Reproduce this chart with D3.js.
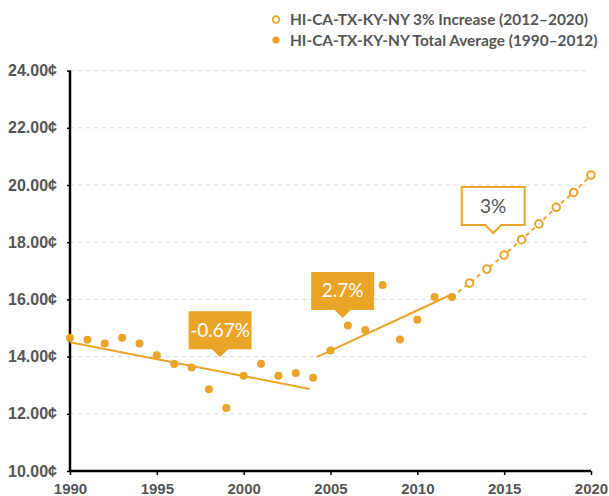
<!DOCTYPE html>
<html>
<head>
<meta charset="utf-8">
<script src="https://cdn.jsdelivr.net/npm/d3@7"></script>
<style>
  body { margin: 0; background: #fff; }
  svg { display: block; font-family: Lato, "Open Sans", sans-serif; }
</style>
</head>
<body>
<svg id="chart" width="609" height="496"></svg>
<script>
// values
const years = d3.range(1990, 2013);
const averageValues = [14.66, 14.59, 14.46, 14.66, 14.46, 14.05, 13.74, 13.62, 12.86, 12.20,
  13.33, 13.75, 13.33, 13.43, 13.26, 14.21, 15.09, 14.93, 16.50, 14.60, 15.29, 16.08, 16.08];
const increaseYears = d3.range(2012, 2021);
const increaseValues = [16.08, 16.57, 17.06, 17.55, 18.09, 18.64, 19.22, 19.74, 20.35];
const trendDown = [[1990, 14.50], [2003.8, 12.87]];
const trendUp = [[2004.2, 13.98], [2012, 16.18]];
const yTicks = [10, 12, 14, 16, 18, 20, 22, 24];
const xTicks = [1990, 1995, 2000, 2005, 2010, 2015, 2020];
const notes = [
  { label: "-0.67%", year: 1998.64, value: 13.98, filled: true },
  { label: "2.7%", year: 2005.7, value: 15.35, filled: true },
  { label: "3%", year: 2014.37, value: 18.32, filled: false }
];
const legendItems = [
  { label: "HI-CA-TX-KY-NY 3% Increase (2012\u20132020)", open: true },
  { label: "HI-CA-TX-KY-NY Total Average (1990\u20132012)", open: false }
];

const orange = "#EAA428";
const textColor = "#555";
const margin = { top: 70.6, right: 18, bottom: 25, left: 70 };
const width = 609, height = 496;

const svg = d3.select("#chart");
const x = d3.scaleLinear().domain([1990, 2020]).range([margin.left, width - margin.right]);
const y = d3.scaleLinear().domain([10, 24]).range([height - margin.bottom, margin.top]);

// grid
svg.append("g").selectAll("line")
  .data(yTicks.filter(d => d > 10))
  .join("line")
  .attr("x1", x(1990)).attr("x2", x(2019.8))
  .attr("y1", d => y(d)).attr("y2", d => y(d))
  .attr("stroke", "#d9d9d9").attr("stroke-dasharray", "4,4");

// axes
const yAxis = svg.append("g")
  .attr("transform", `translate(${margin.left},0)`)
  .call(d3.axisLeft(y).tickValues(yTicks).tickSize(3).tickPadding(10)
    .tickFormat(d => d3.format(".2f")(d) + "\u00a2"));
const xAxis = svg.append("g")
  .attr("transform", `translate(0,${height - margin.bottom})`)
  .call(d3.axisBottom(x).tickValues(xTicks).tickSize(4).tickPadding(8).tickFormat(d3.format("d")));
[xAxis, yAxis].forEach(a => {
  a.select(".domain").attr("stroke", "#000").attr("stroke-width", 2.5);
  a.selectAll(".tick line").attr("stroke", "#000").attr("stroke-width", 1.5);
  a.selectAll("text").attr("fill", textColor).style("font-weight", 700);
});
yAxis.selectAll("text").style("font-size", "16px");
xAxis.selectAll("text").style("font-size", "15px");
yAxis.select(".domain").attr("d", `M0,${y(24)}V${y(10)}`);
xAxis.select(".domain").attr("d", `M${x(1990)},0H${x(2020)}`);

// trend lines
const line = d3.line().x(d => x(d[0])).y(d => y(d[1]));
svg.append("path").datum(trendDown).attr("d", line)
  .attr("fill", "none").attr("stroke", orange).attr("stroke-width", 2);
svg.append("path").datum(trendUp).attr("d", line)
  .attr("fill", "none").attr("stroke", orange).attr("stroke-width", 2);
svg.append("path").datum(increaseYears.map((yr, i) => [yr, increaseValues[i]])).attr("d", line)
  .attr("fill", "none").attr("stroke", orange).attr("stroke-width", 2).attr("stroke-dasharray", "4,4");

// points
svg.append("g").selectAll("circle")
  .data(years.map((yr, i) => [yr, averageValues[i]]))
  .join("circle")
  .attr("cx", d => x(d[0])).attr("cy", d => y(d[1])).attr("r", 4)
  .attr("fill", orange);
svg.append("g").selectAll("circle")
  .data(increaseYears.slice(1).map((yr, i) => [yr, increaseValues[i + 1]]))
  .join("circle")
  .attr("cx", d => x(d[0])).attr("cy", d => y(d[1])).attr("r", 3.8)
  .attr("fill", "#fff").attr("stroke", orange).attr("stroke-width", 2);

// callouts
const bw = 63, bh = 38, ph = 8, pw = 8;
const note = svg.append("g").selectAll("g")
  .data(notes)
  .join("g")
  .attr("transform", d => `translate(${x(d.year)},${y(d.value)})`);
note.append("path")
  .attr("d", `M0,0L${-pw},${-ph}H${-bw / 2}V${-ph - bh}H${bw / 2}V${-ph}H${pw}Z`)
  .attr("fill", d => d.filled ? orange : "#fff")
  .attr("stroke", orange).attr("stroke-width", d => d.filled ? 0 : 2);
note.append("text")
  .attr("y", -ph - bh / 2 + 6.5)
  .attr("text-anchor", "middle")
  .attr("fill", d => d.filled ? "#fff" : textColor)
  .style("font-size", "19px")
  .text(d => d.label);

// legend
const legend = svg.append("g").selectAll("g")
  .data(legendItems)
  .join("g")
  .attr("transform", (d, i) => `translate(276,${19.5 + i * 20.5})`);
legend.append("circle")
  .attr("r", d => d.open ? 3.3 : 3.6)
  .attr("fill", d => d.open ? "#fff" : orange)
  .attr("stroke", d => d.open ? orange : "none").attr("stroke-width", 1.8);
legend.append("text")
  .attr("x", 14).attr("y", 5.5)
  .attr("fill", textColor)
  .style("font-size", "15.4px").style("font-weight", 700)
  .text(d => d.label);
</script>
</body>
</html>
